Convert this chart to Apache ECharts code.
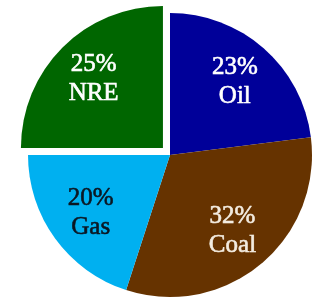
<!DOCTYPE html>
<html>
<head>
<meta charset="utf-8">
<script src="https://cdn.jsdelivr.net/npm/echarts@6/dist/echarts.min.js"></script>
<style>
  html, body { margin: 0; padding: 0; background: #fff; }
  #chart { width: 314px; height: 302px; }
</style>
</head>
<body>
<div id="chart"></div>
<script>
  // energy share, clockwise from 12 o'clock
  const names = ['Oil', 'Coal', 'Gas', 'NRE']
  const shares = [23, 32, 20, 25]
  const colors = ['#000099', '#663300', '#00b0f0', '#006600']
  const textColors = ['#ffffff', '#f3ece0', '#0b1622', '#ffffff']
  const pulledOut = ['NRE']

  const center = [170, 155]

  const pieData = names.map((n, i) => ({
    name: n,
    value: shares[i],
    selected: pulledOut.includes(n),
    itemStyle: { color: colors[i] },
  }))

  // labels ride on a transparent, wider pie so they sit ~2/3 out from the centre
  const labelData = names.map((n, i) => ({
    name: n,
    value: shares[i],
    selected: pulledOut.includes(n),
    itemStyle: { color: 'rgba(0,0,0,0)' },
    // thin same-colour outline = a touch heavier than regular weight
    label: { color: textColors[i], textBorderColor: textColors[i], textBorderWidth: 0.6 },
  }))

  const chart = echarts.init(document.getElementById('chart'))
  chart.setOption({
    animation: false,
    series: [
      {
        type: 'pie',
        center: center,
        radius: [0, 142],
        startAngle: 90,
        clockwise: true,
        selectedMode: 'single',
        selectedOffset: 10,
        label: { show: false },
        labelLine: { show: false },
        emphasis: { disabled: true },
        data: pieData,
      },
      {
        type: 'pie',
        center: center,
        radius: [0, 190],
        startAngle: 90,
        clockwise: true,
        silent: true,
        selectedMode: 'single',
        selectedOffset: 10,
        label: {
          show: true,
          position: 'inside',
          fontFamily: 'Liberation Serif',
          fontSize: 25,
          lineHeight: 29,
          formatter: (p) => p.value + '%\n' + p.name,
        },
        labelLine: { show: false },
        emphasis: { disabled: true },
        data: labelData,
      },
    ],
  })
</script>
</body>
</html>
